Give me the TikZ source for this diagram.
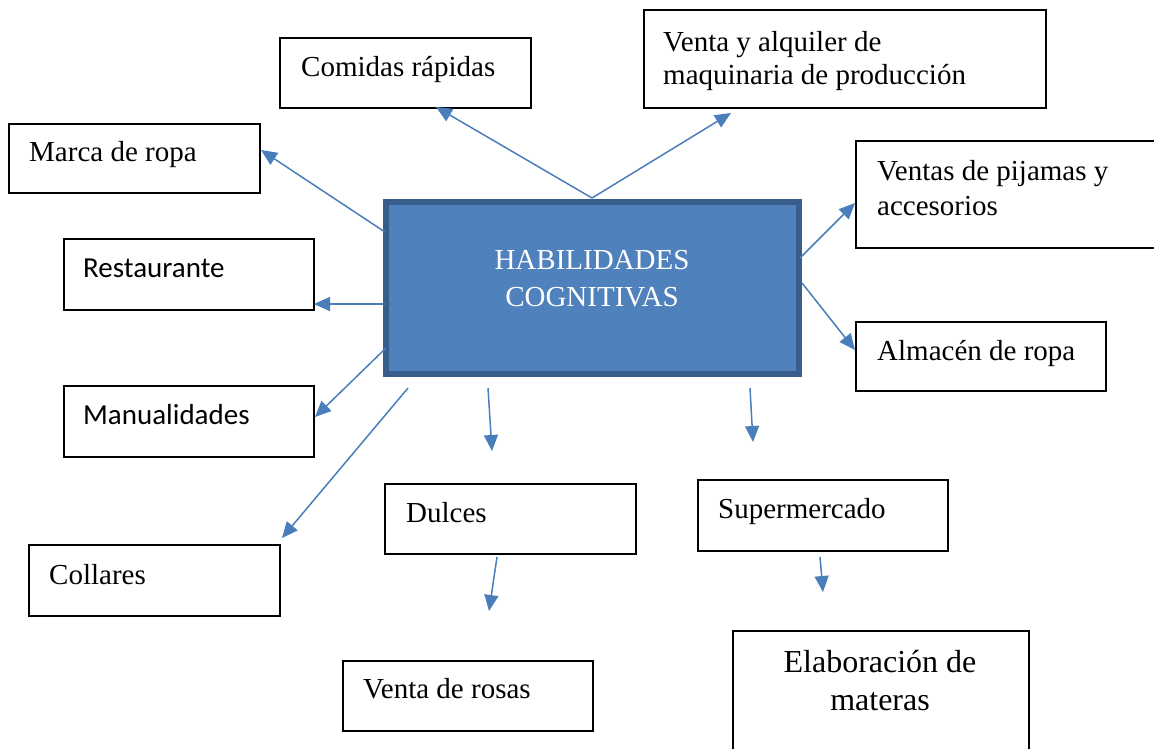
\documentclass[tikz,border=0pt]{standalone}
\usepackage{fontspec}
\setmainfont{Liberation Serif}
\newfontfamily\calib{Carlito}
\usetikzlibrary{arrows.meta}
\definecolor{arrowblue}{HTML}{4A7EBB}
\definecolor{mainfill}{HTML}{4F81BD}
\definecolor{mainborder}{HTML}{385D8A}
\tikzset{
  box/.style={draw=black, line width=1.6pt, inner sep=0pt, anchor=north west},
  txt/.style={anchor=base west, inner sep=0pt, font=\fontsize{29}{34}\selectfont},
  sanstxt/.style={anchor=base west, inner sep=0pt, font=\calib\fontsize{29}{34}\selectfont},
  arr/.style={draw=arrowblue, line width=1.5pt, -{Triangle[length=16pt,width=14pt]}},
}
\begin{document}
\begin{tikzpicture}[x=1pt,y=-1pt]
\useasboundingbox (0,0) rectangle (1154,748);

% central box
\node[draw=mainborder, fill=mainfill, line width=5.5pt, minimum width=413pt, minimum height=172pt, inner sep=0pt] (hab) at (592.5,288) {};
\node[anchor=base, inner sep=0pt, align=center, text=white, font=\fontsize{29}{37}\selectfont] (habtxt) at (592,306) {HABILIDADES\\COGNITIVAS};

% outer boxes
\node[box, minimum width=251pt, minimum height=70pt] (comidas) at (279,37) {};
\node[txt] (tcomidas) at (301,76) {Comidas rápidas};

\node[box, minimum width=402pt, minimum height=98pt] (venta) at (643,9) {};
\node[txt, align=left, font=\fontsize{29}{33}\selectfont] (tventa) at (663,84) {Venta y alquiler de\\maquinaria de producción};

\node[box, minimum width=251pt, minimum height=69pt] (marca) at (8,123) {};
\node[txt] (tmarca) at (29,161) {Marca de ropa};

\node[box, minimum width=320pt, minimum height=107pt] (pijamas) at (855,140) {};
\node[txt, align=left, font=\fontsize{29}{35}\selectfont] (tpijamas) at (877,215) {Ventas de pijamas y\\accesorios};

\node[box, minimum width=250pt, minimum height=71pt] (restaurante) at (63,238) {};
\node[sanstxt] (trestaurante) at (83,277) {Restaurante};

\node[box, minimum width=250pt, minimum height=69pt] (almacen) at (855,321) {};
\node[txt] (talmacen) at (877,360) {Almacén de ropa};

\node[box, minimum width=250pt, minimum height=71pt] (manual) at (63,385) {};
\node[sanstxt] (tmanual) at (83,424) {Manualidades};

\node[box, minimum width=251pt, minimum height=71pt] (collares) at (28,544) {};
\node[txt] (tcollares) at (49,584) {Collares};

\node[box, minimum width=251pt, minimum height=70pt] (dulces) at (384,483) {};
\node[txt] (tdulces) at (406,522) {Dulces};

\node[box, minimum width=250pt, minimum height=71pt] (super) at (697,479) {};
\node[txt] (tsuper) at (718,518) {Supermercado};

\node[box, minimum width=250pt, minimum height=70pt] (rosas) at (342,660) {};
\node[txt] (trosas) at (363,698) {Venta de rosas};

\node[box, minimum width=296pt, minimum height=140pt] (materas) at (732,630) {};
\node[anchor=base, inner sep=0pt, align=center, font=\fontsize{32}{38}\selectfont] (tmateras) at (880,710) {Elaboración de\\materas};

% connector end points
\coordinate (s1) at (592,198); \coordinate (e1) at (436,107);
\coordinate (e2) at (731,113);
\coordinate (s3) at (385,232); \coordinate (e3) at (261,150);
\coordinate (s4) at (385,304); \coordinate (e4) at (314,304);
\coordinate (s5) at (386,348); \coordinate (e5) at (315,417);
\coordinate (s6) at (408,388); \coordinate (e6) at (282,538);
\coordinate (s7) at (488,388); \coordinate (e7) at (492,451);
\coordinate (s8) at (750,388); \coordinate (e8) at (753,442);
\coordinate (s9) at (497,557); \coordinate (e9) at (489,611);
\coordinate (s10) at (820,557); \coordinate (e10) at (823,592);
\coordinate (s11) at (800,258); \coordinate (e11) at (855,203);
\coordinate (s12) at (802,283); \coordinate (e12) at (855,350);

\draw[arr] (s1) -- (e1);
\draw[arr] (s1) -- (e2);
\draw[arr] (s3) -- (e3);
\draw[arr] (s4) -- (e4);
\draw[arr] (s5) -- (e5);
\draw[arr] (s6) -- (e6);
\draw[arr] (s7) -- (e7);
\draw[arr] (s8) -- (e8);
\draw[arr] (s9) -- (e9);
\draw[arr] (s10) -- (e10);
\draw[arr] (s11) -- (e11);
\draw[arr] (s12) -- (e12);
\end{tikzpicture}
\end{document}
